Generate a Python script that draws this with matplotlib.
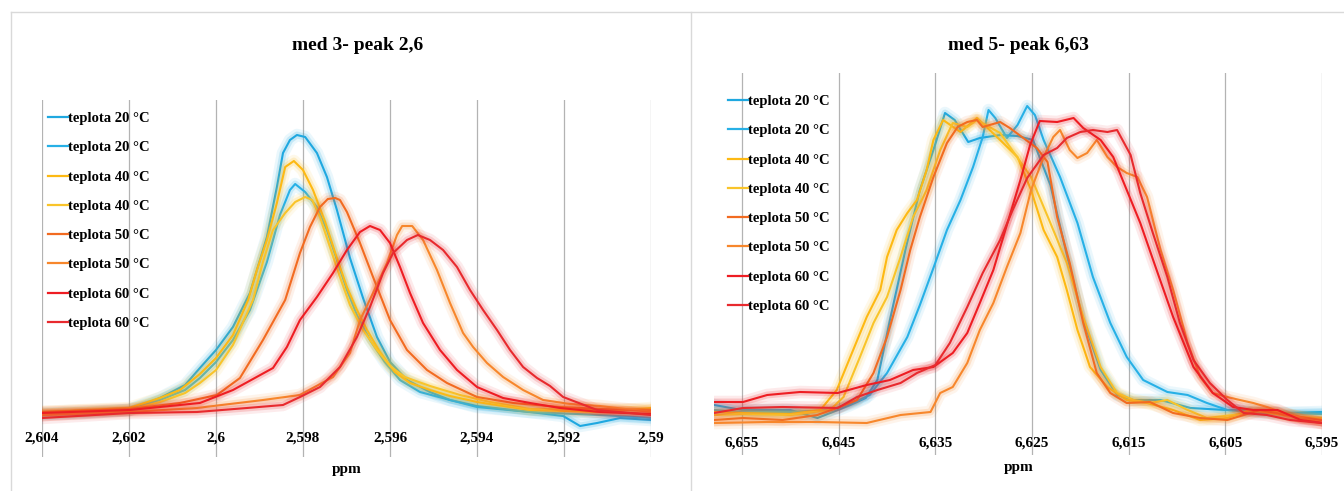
import matplotlib
matplotlib.use("Agg")
import matplotlib.pyplot as plt
import matplotlib.patheffects as pe
from matplotlib.lines import Line2D

plt.rcParams['font.family'] = ['Liberation Serif', 'DejaVu Serif']
plt.rcParams['font.weight'] = 'bold'

labels = ['teplota 20 °C', 'teplota 20 °C', 'teplota 40 °C', 'teplota 40 °C',
          'teplota 50 °C', 'teplota 50 °C', 'teplota 60 °C', 'teplota 60 °C']
colors = ['#1FA8E0', '#27B0E6', '#FDB913', '#F9C42A',
          '#F26B21', '#F7872C', '#EE1D23', '#E82A2E']

# ---- left chart: med 3 - peak 2,6 ----
left_title = 'med 3- peak 2,6'
left_ticks = [2.604, 2.602, 2.600, 2.598, 2.596, 2.594, 2.592, 2.590]
left_ticklabels = ['2,604', '2,602', '2,6', '2,598', '2,596', '2,594', '2,592', '2,59']

l20a_x = [2.60400, 2.60301, 2.60200, 2.60129, 2.60071, 2.60037, 2.60000, 2.59961, 2.59922,
          2.59899, 2.59883, 2.59860, 2.59846, 2.59830, 2.59814, 2.59795, 2.59768, 2.59745,
          2.59722, 2.59692, 2.59662, 2.59630, 2.59600, 2.59561, 2.59508, 2.59462, 2.59400,
          2.59278, 2.59202, 2.59163, 2.59124, 2.59071, 2.59000]
l20a_y = [-0.02, -0.01, 0.02, 0.14, 0.27, 0.44, 0.62, 0.85, 1.19,
          1.52, 1.75, 2.25, 2.59, 2.72, 2.77, 2.75, 2.59, 2.35,
          2.02, 1.54, 1.14, 0.75, 0.50, 0.32, 0.20, 0.12, 0.06,
          0.00, -0.04, -0.14, -0.11, -0.06, -0.08]

l20b_x = [2.60400, 2.60200, 2.60129, 2.60071, 2.60037, 2.60000, 2.59961, 2.59922, 2.59883,
          2.59853, 2.59830, 2.59818, 2.59795, 2.59768, 2.59745, 2.59722, 2.59699, 2.59676,
          2.59646, 2.59612, 2.59577, 2.59531, 2.59462, 2.59400, 2.59278, 2.59117, 2.59000]
l20b_y = [-0.02, 0.02, 0.12, 0.22, 0.34, 0.50, 0.72, 1.02, 1.50,
          1.97, 2.22, 2.28, 2.20, 2.05, 1.82, 1.52, 1.22, 0.97,
          0.72, 0.50, 0.32, 0.20, 0.12, 0.05, 0.00, -0.03, -0.06]

l40a_x = [2.60400, 2.60200, 2.60129, 2.60083, 2.60037, 2.60000, 2.59961, 2.59926, 2.59906,
          2.59883, 2.59860, 2.59841, 2.59821, 2.59800, 2.59777, 2.59749, 2.59722, 2.59699,
          2.59676, 2.59653, 2.59623, 2.59589, 2.59554, 2.59508, 2.59462, 2.59400, 2.59278,
          2.59117, 2.59000]
l40a_y = [0.00, 0.04, 0.14, 0.22, 0.38, 0.54, 0.77, 1.12, 1.42,
          1.72, 2.09, 2.45, 2.51, 2.42, 2.22, 1.90, 1.54, 1.25,
          1.02, 0.82, 0.60, 0.40, 0.29, 0.22, 0.16, 0.10, 0.02,
          0.00, 0.04]

l40b_x = [2.60400, 2.60200, 2.60129, 2.60071, 2.60037, 2.60000, 2.59961, 2.59915, 2.59892,
          2.59869, 2.59841, 2.59818, 2.59795, 2.59779, 2.59761, 2.59738, 2.59715, 2.59692,
          2.59662, 2.59630, 2.59600, 2.59566, 2.59508, 2.59439, 2.59370, 2.59278, 2.59117,
          2.59000]
l40b_y = [-0.01, 0.02, 0.10, 0.19, 0.29, 0.42, 0.67, 1.12, 1.50,
          1.82, 1.99, 2.10, 2.15, 2.12, 1.95, 1.65, 1.35, 1.07,
          0.82, 0.62, 0.46, 0.35, 0.26, 0.17, 0.10, 0.03, 0.02,
          0.02]

l50a_x = [2.60400, 2.60198, 2.60083, 2.59998, 2.59945, 2.59892, 2.59841, 2.59807, 2.59784,
          2.59761, 2.59743, 2.59726, 2.59715, 2.59699, 2.59669, 2.59639, 2.59600, 2.59561,
          2.59515, 2.59469, 2.59400, 2.59317, 2.59209, 2.59117, 2.59000]
l50a_y = [0.00, 0.03, 0.09, 0.17, 0.34, 0.72, 1.12, 1.59, 1.85,
          2.05, 2.13, 2.14, 2.12, 2.00, 1.69, 1.35, 0.92, 0.62,
          0.42, 0.29, 0.15, 0.09, 0.05, 0.03, 0.02]

l50b_x = [2.60400, 2.60198, 2.60044, 2.59892, 2.59807, 2.59731, 2.59692, 2.59669, 2.59639,
          2.59607, 2.59584, 2.59572, 2.59549, 2.59524, 2.59492, 2.59462, 2.59432, 2.59409,
          2.59377, 2.59340, 2.59294, 2.59248, 2.59186, 2.59117, 2.59000]
l50b_y = [-0.03, 0.00, 0.04, 0.12, 0.17, 0.35, 0.59, 0.92, 1.19,
          1.49, 1.77, 1.86, 1.86, 1.72, 1.42, 1.09, 0.79, 0.65,
          0.49, 0.35, 0.22, 0.12, 0.08, 0.06, 0.00]

l60a_x = [2.60400, 2.60198, 2.60037, 2.59961, 2.59869, 2.59837, 2.59807, 2.59768, 2.59731,
          2.59699, 2.59669, 2.59646, 2.59623, 2.59600, 2.59577, 2.59554, 2.59524, 2.59485,
          2.59446, 2.59400, 2.59340, 2.59278, 2.59209, 2.59117, 2.59000]
l60a_y = [-0.01, 0.02, 0.09, 0.22, 0.44, 0.65, 0.92, 1.15, 1.39,
          1.62, 1.80, 1.86, 1.82, 1.69, 1.45, 1.19, 0.89, 0.62,
          0.42, 0.25, 0.14, 0.09, 0.04, 0.00, -0.02]

l60b_x = [2.60400, 2.60198, 2.60044, 2.59929, 2.59846, 2.59807, 2.59761, 2.59715, 2.59676,
          2.59646, 2.59616, 2.59593, 2.59561, 2.59536, 2.59508, 2.59478, 2.59446, 2.59416,
          2.59386, 2.59354, 2.59324, 2.59294, 2.59262, 2.59232, 2.59202, 2.59124, 2.59000]
l60b_y = [-0.06, -0.01, 0.00, 0.04, 0.07, 0.15, 0.25, 0.45, 0.75,
          1.05, 1.39, 1.59, 1.72, 1.77, 1.72, 1.62, 1.45, 1.22,
          1.02, 0.82, 0.62, 0.45, 0.34, 0.26, 0.15, 0.02, -0.03]

# ---- right chart: med 5 - peak 6,63 ----
right_title = 'med 5- peak 6,63'
right_ticks = [6.655, 6.645, 6.635, 6.625, 6.615, 6.605, 6.595]
right_ticklabels = ['6,655', '6,645', '6,635', '6,625', '6,615', '6,605', '6,595']

r20a_x = [6.6579, 6.6550, 6.6500, 6.6472, 6.6438, 6.6422, 6.6410, 6.6397, 6.6381, 6.6366,
          6.6352, 6.6340, 6.6330, 6.6316, 6.6304, 6.6283, 6.6265, 6.6249, 6.6231, 6.6214,
          6.6197, 6.6179, 6.6162, 6.6145, 6.6117, 6.6086, 6.6050, 6.6024, 6.5993, 6.5950]
r20a_y = [0.10, 0.05, 0.05, -0.03, 0.10, 0.17, 0.35, 0.95, 1.65, 2.25,
          2.65, 3.02, 2.95, 2.73, 2.77, 2.80, 2.79, 2.75, 2.30, 1.60,
          0.95, 0.45, 0.20, 0.15, 0.15, 0.07, 0.05, 0.05, 0.02, 0.03]

r20b_x = [6.6579, 6.6550, 6.6500, 6.6459, 6.6433, 6.6418, 6.6400, 6.6379, 6.6366, 6.6352,
          6.6338, 6.6324, 6.6311, 6.6301, 6.6295, 6.6288, 6.6276, 6.6265, 6.6255, 6.6247,
          6.6238, 6.6221, 6.6203, 6.6187, 6.6169, 6.6152, 6.6135, 6.6110, 6.6089, 6.6069,
          6.6048, 6.6014, 6.5950]
r20b_y = [0.05, 0.03, 0.03, 0.05, 0.13, 0.20, 0.42, 0.78, 1.10, 1.47,
          1.85, 2.15, 2.48, 2.78, 3.05, 2.97, 2.77, 2.90, 3.09, 3.00,
          2.75, 2.38, 1.92, 1.38, 0.92, 0.58, 0.35, 0.23, 0.20, 0.12,
          0.05, 0.02, 0.01]

r40a_x = [6.6579, 6.6550, 6.6500, 6.6469, 6.6452, 6.6438, 6.6421, 6.6407, 6.6400, 6.6390,
          6.6379, 6.6369, 6.6359, 6.6352, 6.6342, 6.6324, 6.6307, 6.6296, 6.6283, 6.6265,
          6.6251, 6.6238, 6.6224, 6.6214, 6.6203, 6.6190, 6.6172, 6.6152, 6.6131, 6.6104,
          6.6076, 6.6048, 6.6024, 6.5990, 6.5950]
r40a_y = [0.03, 0.02, 0.01, 0.05, 0.25, 0.58, 0.98, 1.25, 1.58, 1.85,
          2.02, 2.15, 2.45, 2.75, 2.95, 2.83, 2.97, 2.87, 2.75, 2.58,
          2.25, 1.85, 1.58, 1.25, 0.85, 0.48, 0.28, 0.15, 0.12, 0.05,
          -0.05, -0.03, 0.05, 0.00, -0.05]

r40b_x = [6.6579, 6.6550, 6.6500, 6.6459, 6.6445, 6.6428, 6.6414, 6.6400, 6.6386, 6.6373,
          6.6359, 6.6345, 6.6332, 6.6317, 6.6307, 6.6283, 6.6251, 6.6231, 6.6214, 6.6197,
          6.6179, 6.6162, 6.6145, 6.6128, 6.6110, 6.6089, 6.6069, 6.6042, 6.6007, 6.5972,
          6.5950]
r40b_y = [0.00, 0.01, 0.00, 0.05, 0.18, 0.58, 0.92, 1.18, 1.58, 1.98,
          2.25, 2.65, 2.92, 2.88, 2.95, 2.82, 2.38, 1.92, 1.52, 0.98,
          0.48, 0.22, 0.15, 0.12, 0.15, 0.05, -0.03, 0.00, 0.05, -0.02,
          -0.03]

r50a_x = [6.6579, 6.6549, 6.6508, 6.6472, 6.6449, 6.6431, 6.6414, 6.6400, 6.6386, 6.6376,
          6.6366, 6.6352, 6.6338, 6.6327, 6.6317, 6.6307, 6.6301, 6.6283, 6.6273, 6.6259,
          6.6245, 6.6234, 6.6224, 6.6211, 6.6197, 6.6183, 6.6169, 6.6152, 6.6128, 6.6104,
          6.6076, 6.6048, 6.6014, 6.5986, 6.5950]
r50a_y = [-0.05, -0.03, -0.05, 0.00, 0.08, 0.15, 0.42, 0.78, 1.25, 1.65,
          1.98, 2.38, 2.72, 2.88, 2.93, 2.95, 2.88, 2.93, 2.87, 2.77,
          2.67, 2.53, 1.98, 1.52, 0.92, 0.42, 0.22, 0.12, 0.13, 0.02,
          -0.03, -0.05, 0.05, 0.00, -0.05]

r50b_x = [6.6579, 6.6524, 6.6472, 6.6421, 6.6386, 6.6355, 6.6345, 6.6332, 6.6317, 6.6304,
          6.6290, 6.6276, 6.6262, 6.6251, 6.6238, 6.6228, 6.6221, 6.6211, 6.6203, 6.6193,
          6.6183, 6.6172, 6.6162, 6.6152, 6.6141, 6.6131, 6.6117, 6.6104, 6.6089, 6.6076,
          6.6063, 6.6048, 6.6035, 6.6021, 6.6007, 6.5990, 6.5950]
r50b_y = [-0.08, -0.07, -0.07, -0.08, 0.00, 0.03, 0.22, 0.28, 0.52, 0.85,
          1.12, 1.48, 1.82, 2.25, 2.58, 2.78, 2.85, 2.65, 2.57, 2.62,
          2.75, 2.58, 2.48, 2.42, 2.38, 2.18, 1.65, 1.25, 0.72, 0.38,
          0.22, 0.18, 0.15, 0.12, 0.08, 0.02, -0.08]

r60a_x = [6.6579, 6.6549, 6.6524, 6.6490, 6.6451, 6.6421, 6.6397, 6.6373, 6.6352, 6.6332,
          6.6317, 6.6304, 6.6290, 6.6276, 6.6262, 6.6252, 6.6242, 6.6224, 6.6207, 6.6197,
          6.6179, 6.6166, 6.6152, 6.6138, 6.6120, 6.6104, 6.6083, 6.6063, 6.6042, 6.6021,
          6.5996, 6.5972, 6.5950]
r60a_y = [0.13, 0.13, 0.20, 0.23, 0.22, 0.30, 0.35, 0.45, 0.48, 0.62,
          0.82, 1.12, 1.45, 1.90, 2.35, 2.70, 2.94, 2.93, 2.97, 2.87,
          2.75, 2.58, 2.25, 1.92, 1.42, 0.98, 0.48, 0.22, 0.08, 0.05,
          0.05, -0.05, -0.08]

r60b_x = [6.6579, 6.6549, 6.6508, 6.6451, 6.6431, 6.6410, 6.6386, 6.6369, 6.6350, 6.6335,
          6.6317, 6.6301, 6.6283, 6.6270, 6.6255, 6.6238, 6.6224, 6.6214, 6.6200, 6.6187,
          6.6172, 6.6162, 6.6148, 6.6138, 6.6125, 6.6110, 6.6097, 6.6083, 6.6066, 6.6048,
          6.6031, 6.6007, 6.5983, 6.5950]
r60b_y = [0.02, 0.07, 0.08, 0.07, 0.18, 0.25, 0.32, 0.42, 0.50, 0.72,
          1.08, 1.42, 1.75, 2.05, 2.37, 2.60, 2.67, 2.77, 2.83, 2.85,
          2.83, 2.85, 2.60, 2.22, 1.82, 1.38, 0.92, 0.55, 0.32, 0.15,
          0.02, 0.00, -0.05, -0.08]

left_series = [(l20a_x, l20a_y), (l20b_x, l20b_y), (l40a_x, l40a_y), (l40b_x, l40b_y),
               (l50a_x, l50a_y), (l50b_x, l50b_y), (l60a_x, l60a_y), (l60b_x, l60b_y)]
right_series = [(r20a_x, r20a_y), (r20b_x, r20b_y), (r40a_x, r40a_y), (r40b_x, r40b_y),
                (r50a_x, r50a_y), (r50b_x, r50b_y), (r60a_x, r60a_y), (r60b_x, r60b_y)]

W, H = 1344, 491
fig = plt.figure(figsize=(W / 100, H / 100), dpi=100)


def box(x0, y0, x1, y1):
    # pixel box (top-left origin) -> figure fraction rect
    return [x0 / W, 1 - y1 / H, (x1 - x0) / W, (y1 - y0) / H]


def draw_panel(rect, series, xlim, ylim, ticks, ticklabels, pad, title, title_xy, ppm_xy, leg_xy):
    ax = fig.add_axes(rect)
    for (x, y), c in zip(series, colors):
        ax.plot(x, y, color=c, lw=1.5, solid_joinstyle='round',
                path_effects=[pe.Stroke(linewidth=9, foreground=c, alpha=0.09),
                              pe.Stroke(linewidth=5, foreground=c, alpha=0.18),
                              pe.Normal()])
    ax.set_xlim(*xlim)
    ax.set_ylim(*ylim)
    ax.set_xticks(ticks)
    ax.set_xticklabels(ticklabels, fontsize=11, fontweight='bold')
    ax.set_yticks([])
    ax.tick_params(axis='x', length=0, pad=pad)
    ax.grid(axis='x', color='#b3b3b3', lw=0.9)
    ax.set_axisbelow(True)
    for s in ax.spines.values():
        s.set_visible(False)
    ax.patch.set_alpha(0)
    fig.text(title_xy[0] / W, 1 - title_xy[1] / H, title, ha='center', va='center',
             fontsize=14, fontweight='bold')
    fig.text(ppm_xy[0] / W, 1 - ppm_xy[1] / H, 'ppm', ha='center', va='center',
             fontsize=11, fontweight='bold')
    handles = [Line2D([], [], color=c, lw=1.6) for c in colors]
    ax.legend(handles, labels, loc='upper left',
              bbox_to_anchor=(leg_xy[0] / W, 1 - leg_xy[1] / H),
              bbox_transform=fig.transFigure, frameon=False,
              prop={'size': 10.5, 'weight': 'bold'}, handlelength=1.35,
              handletextpad=0.05, labelspacing=1.1, borderpad=0, borderaxespad=0)
    return ax


draw_panel(box(42, 100, 651, 457), left_series, (2.604, 2.590), (-0.45, 3.12),
           left_ticks, left_ticklabels, -18.5, left_title, (358, 46), (347, 470), (48, 112))
draw_panel(box(714, 73, 1322, 455), right_series, (6.6579, 6.5950), (-0.40, 3.42),
           right_ticks, right_ticklabels, -13, right_title, (1018, 46), (1019, 467), (728, 95))

# light chart-area borders
for xs, ys in [([11, 11], [12, 491]), ([11, 1344], [12, 12]), ([691, 691], [12, 491])]:
    fig.add_artist(Line2D([x / W for x in xs], [1 - y / H for y in ys],
                          color='#d9d9d9', lw=1.0))

fig.savefig('out.png', dpi=100, facecolor='white')
